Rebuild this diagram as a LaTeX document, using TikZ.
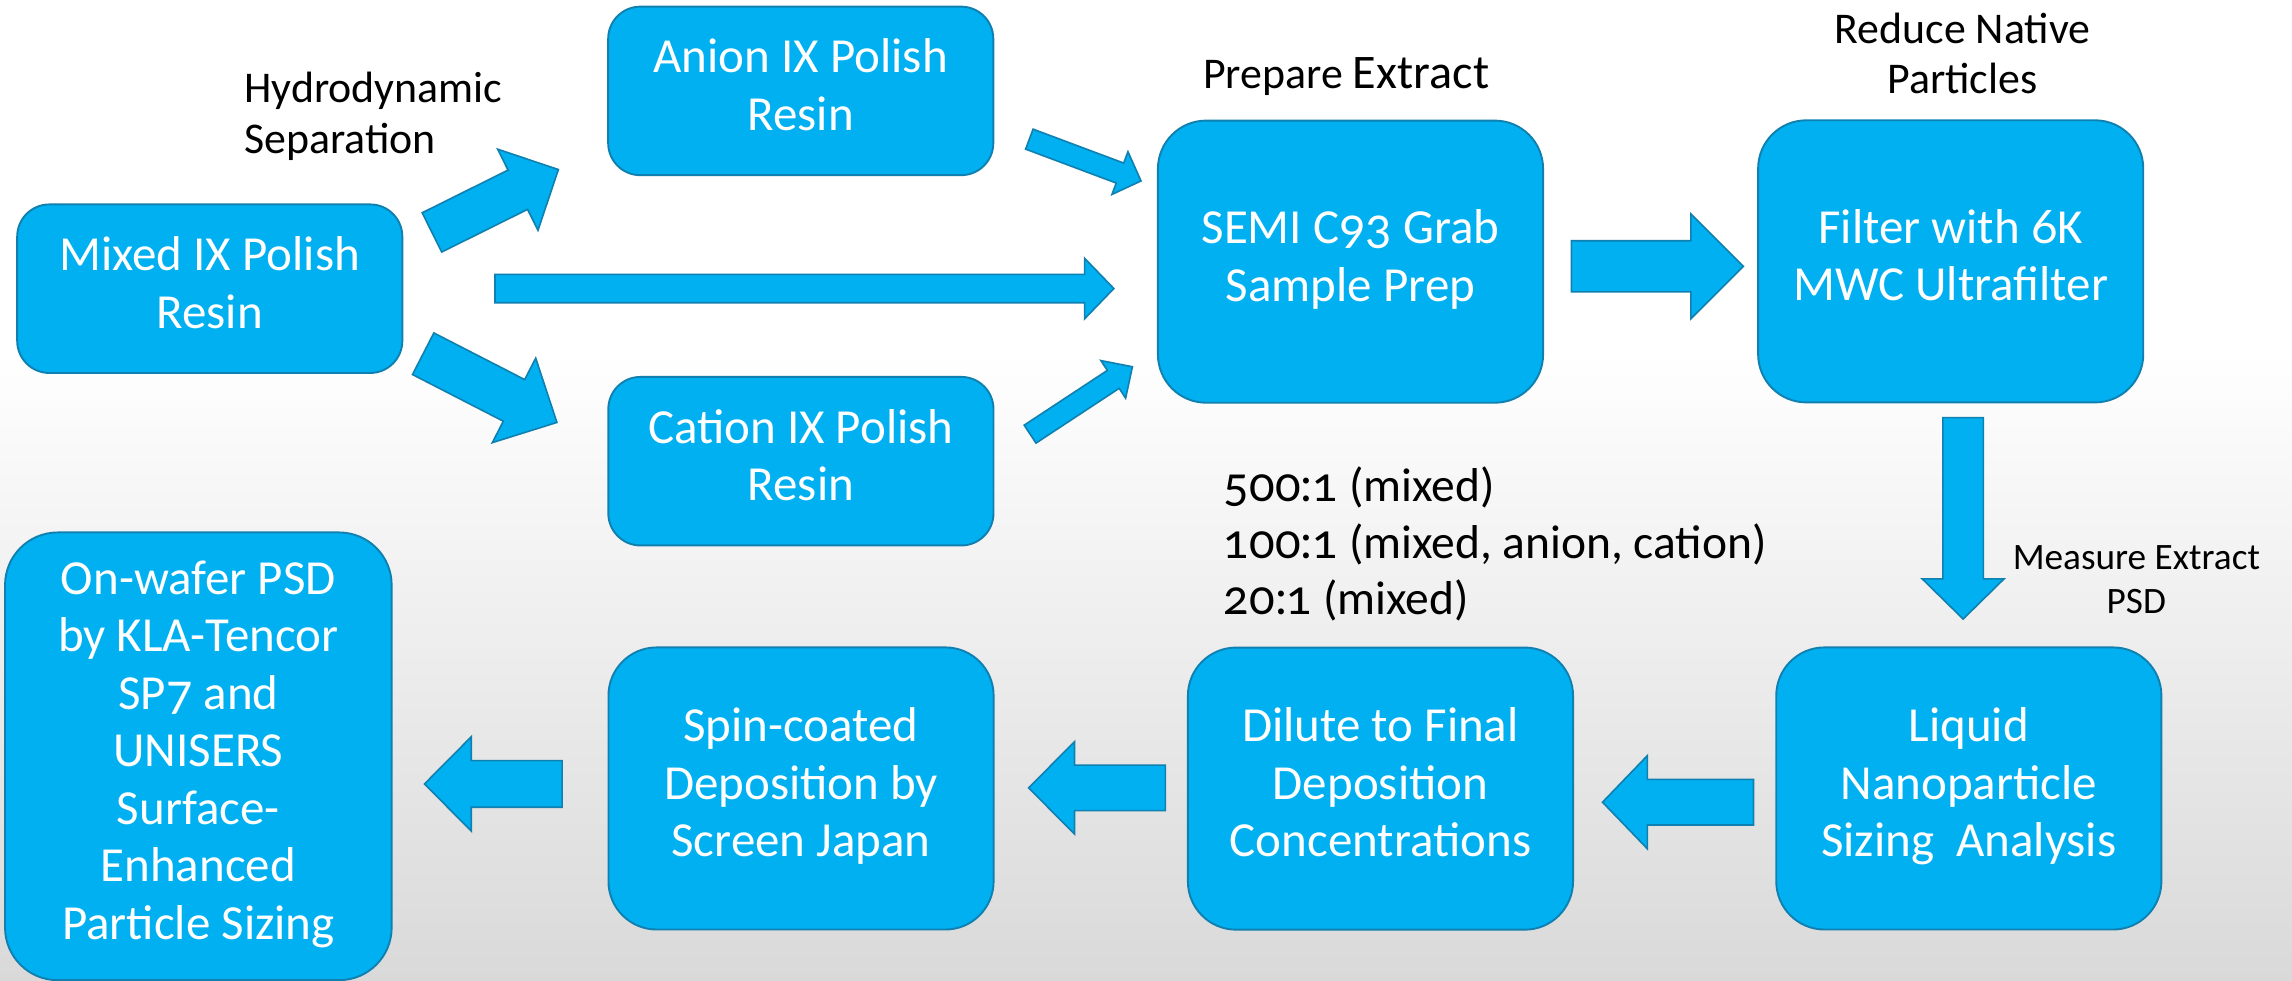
\documentclass[tikz,border=0pt]{standalone}
\usepackage{fontspec}
\setmainfont{Carlito}
% old-style figures for the numbers
\newfontfamily\osf{Lato}[Numbers=OldStyle]
\usetikzlibrary{calc}

\definecolor{boxfill}{HTML}{00B0F0}
\definecolor{boxline}{HTML}{1080B0}
\definecolor{bgbottom}{HTML}{D9D9D9}

% strut that centres two or more lines of box text like the slide software does
\newcommand\bstrut{\rule[-8.6pt]{0pt}{40pt}}

% block arrow from #1 (middle of the tail) to #2 (tip);
% #3 shaft width, #4 head width, #5 head length
\newcommand\blockarrow[5]{%
  \draw[fatarrow] let \p1=(#1), \p2=(#2), \n1={atan2(\y2-\y1,\x2-\x1)} in
    ($(\p1)+(\n1+90:#3/2)$) -- ($(\p1)+(\n1-90:#3/2)$)
    -- ($(\p2)+(\n1+180:#5)+(\n1-90:#3/2)$)
    -- ($(\p2)+(\n1+180:#5)+(\n1-90:#4/2)$)
    -- (\p2)
    -- ($(\p2)+(\n1+180:#5)+(\n1+90:#4/2)$)
    -- ($(\p2)+(\n1+180:#5)+(\n1+90:#3/2)$) -- cycle;}

\begin{document}
\begin{tikzpicture}[x=1pt,y=1pt,
  stepbox/.style={draw=boxline, fill=boxfill, line width=1.3pt, text=white,
    align=center, inner sep=0pt, font=\fontsize{33.5}{39.4}\selectfont,
    execute at begin node=\bstrut, execute at end node=\bstrut},
  smallbox/.style={stepbox, rounded corners=22, minimum width=263.5, minimum height=115.3},
  tallbox/.style={stepbox, rounded corners=33, minimum width=263.5, minimum height=193},
  fatarrow/.style={draw=boxline, fill=boxfill, line width=1.1pt, line join=miter},
  lab/.style={text=black, inner sep=0pt, anchor=base, font=\fontsize{30}{35}\selectfont},
  smalllab/.style={lab, font=\fontsize{25.5}{30}\selectfont},
  ratio/.style={text=black, inner sep=0pt, anchor=base west, font=\fontsize{32.5}{39}\selectfont}]

% page and background
\useasboundingbox (0,0) rectangle (1568,-671);
\fill[white] (0,0) rectangle (1568,-671);
\shade[top color=white, bottom color=bgbottom] (0,-240) rectangle (1568,-671);

% process steps
\node[smallbox] (mixed)  at (143.5,-197.5) {Mixed IX Polish\\Resin};
\node[smallbox] (anion)  at (547.8,-62.2)  {Anion IX Polish\\Resin};
\node[smallbox] (cation) at (547.9,-315.5) {Cation IX Polish\\Resin};
\node[tallbox]  (semi)   at (923.9,-179)   {SEMI C{\osf 93} Grab\\Sample Prep};
\node[tallbox]  (filter) at (1334.5,-178.8){Filter with {\osf 6}K\\MWC Ultrafilter};
\node[tallbox]  (liquid) at (1346.9,-539.4){Liquid\\Nanoparticle\\Sizing\ \ Analysis};
\node[tallbox]  (dilute) at (944.4,-539.5) {Dilute to Final\\Deposition\\Concentrations};
\node[tallbox]  (spin)   at (548,-539.4)   {Spin-coated\\Deposition by\\Screen Japan};
\node[stepbox, rounded corners=36, minimum width=264.5, minimum height=306.3]
  (wafer) at (135.7,-517.4)
  {On-wafer PSD\\by KLA-Tencor\\SP{\osf 7} and\\UNISERS\\Surface-\\Enhanced\\Particle Sizing};

% arrow end points
\coordinate (a1s) at (295.5,-159);    \coordinate (a1e) at (382,-116);
\coordinate (a2s) at (289.5,-242);    \coordinate (a2e) at (381,-289);
\coordinate (a3s) at (338.6,-197.4);  \coordinate (a3e) at (762,-197.4);
\coordinate (a4s) at (704.2,-95.2);   \coordinate (a4e) at (780.6,-123.8);
\coordinate (a5s) at (704.7,-297);    \coordinate (a5e) at (774.7,-250.9);
\coordinate (a6s) at (1075,-182.2);   \coordinate (a6e) at (1192.7,-182.2);
\coordinate (a7s) at (1343,-285.7);   \coordinate (a7e) at (1343,-423.5);
\coordinate (a8s) at (1199.6,-548.8); \coordinate (a8e) at (1096.3,-548.8);
\coordinate (a9s) at (797.2,-539);    \coordinate (a9e) at (703.7,-539);
\coordinate (a10s) at (384.6,-536.3); \coordinate (a10e) at (290.4,-536.3);

% flow arrows
\blockarrow{a1s}{a1e}{30}{62}{31}
\blockarrow{a2s}{a2e}{32}{65}{33}
\blockarrow{a3s}{a3e}{19.4}{41.4}{20}
\blockarrow{a4s}{a4e}{14.6}{31.2}{15.4}
\blockarrow{a5s}{a5e}{14.7}{30.8}{15.7}
\blockarrow{a6s}{a6e}{35}{71.8}{36}
\blockarrow{a7s}{a7e}{27.7}{56}{27.5}
\blockarrow{a8s}{a8e}{31.2}{63.8}{30.7}
\blockarrow{a9s}{a9e}{31.2}{63.2}{31.4}
\blockarrow{a10s}{a10e}{31.9}{64.5}{32}

% annotations
\node[lab, anchor=base west] (hyd1) at (167,-70)  {Hydrodynamic};
\node[lab, anchor=base west] (hyd2) at (167,-105) {Separation};
\node[lab] (prep) at (921,-60.4)
  {Prepare {\fontsize{33}{35}\selectfont Extract}};
\node[lab] (red1) at (1342.5,-29.6) {Reduce Native};
\node[lab] (red2) at (1342.5,-63.9) {Particles};
\node[smalllab] (meas1) at (1461.5,-389.5) {Measure Extract};
\node[smalllab] (meas2) at (1461.5,-419.6) {PSD};
\node[ratio] (r1) at (837,-343.2) {{\osf 500:1} (mixed)};
\node[ratio] (r2) at (837,-382)   {{\osf 100:1} (mixed, anion, cation)};
\node[ratio] (r3) at (837,-420.7) {{\osf 20:1} (mixed)};
\end{tikzpicture}
\end{document}
